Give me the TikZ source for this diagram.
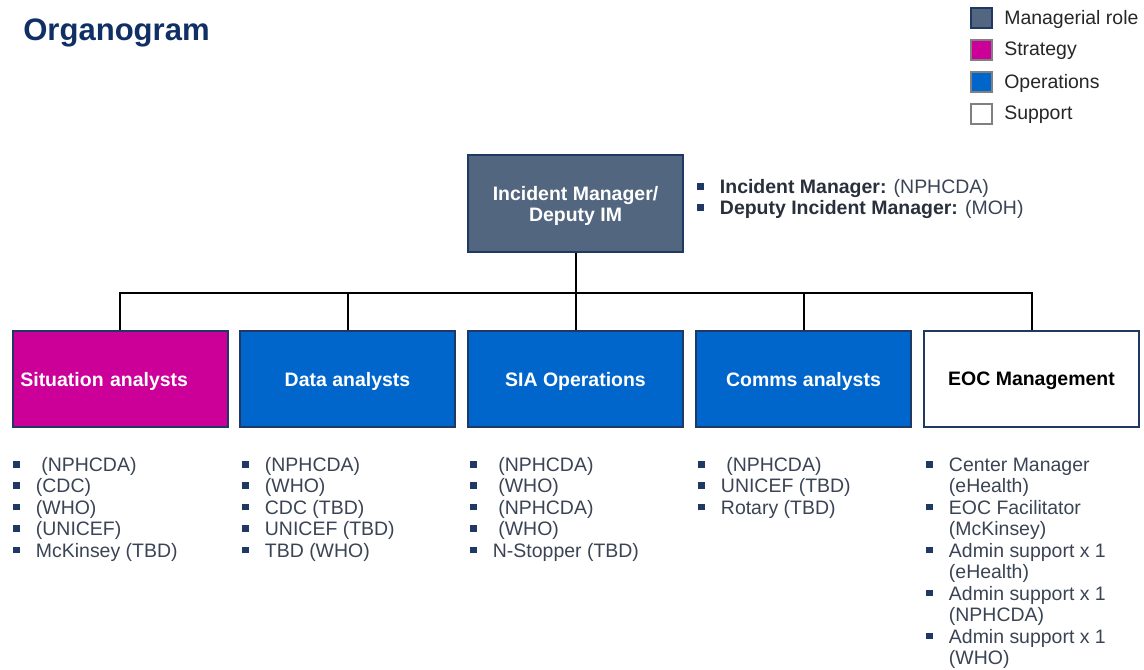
\documentclass[tikz,border=0pt]{standalone}
\usepackage{fontspec}
\setmainfont{Liberation Sans}

\definecolor{navyline}{RGB}{31,56,100}
\definecolor{mgrfill}{RGB}{82,102,128}
\definecolor{stratfill}{RGB}{204,0,153}
\definecolor{opsfill}{RGB}{0,102,204}
\definecolor{leggrey}{RGB}{128,128,128}
\definecolor{titlenavy}{RGB}{16,47,100}
\definecolor{listgrey}{RGB}{58,68,84}
\definecolor{bulnavy}{RGB}{31,56,100}

\newcommand{\bul}{\textcolor{bulnavy}{\rule[2.8pt]{5pt}{5pt}}}

\tikzset{
  unitbox/.style={draw=navyline, line width=1.3pt, minimum width=161.25pt,
    minimum height=72pt, inner sep=0pt, text=white, text depth=0pt,
    font=\bfseries\fontsize{14.6}{15.8}\selectfont, align=center},
  conn/.style={line width=1.5pt, black},
  staff/.style={anchor=north west, inner sep=0pt, text=listgrey,
    font=\fontsize{14.6}{16.1}\selectfont},
  legbox/.style={minimum width=16pt, minimum height=14.5pt, inner sep=0pt, line width=1.5pt},
  legtext/.style={anchor=west, inner sep=0pt, text=black!85,
    font=\fontsize{14.6}{16}\selectfont}
}

\begin{document}
\begin{tikzpicture}[x=0.75pt, y=-0.75pt]
\useasboundingbox (0,0) rectangle (1144,670);

%%%%%TITLE AND LEGEND%%%%%%%%%
\node[anchor=west, inner sep=0pt, text=titlenavy, font=\bfseries\fontsize{23.3}{25}\selectfont] (title) at (23,33) {Organogram};

\node[legbox, draw=navyline, fill=mgrfill] (legmgr) at (981.5,18) {};
\node[legtext] (legmgrtxt) at (1004,19) {Managerial role};
\node[legbox, draw=leggrey, fill=stratfill] (legstrat) at (981.5,50) {};
\node[legtext] (legstrattxt) at (1004,51) {Strategy};
\node[legbox, draw=leggrey, fill=opsfill] (legops) at (981.5,82) {};
\node[legtext] (legopstxt) at (1004,83) {Operations};
\node[legbox, draw=leggrey, fill=white] (legsup) at (981.5,114) {};
\node[legtext] (legsuptxt) at (1004,115) {Support};

%%%%%DRAW BOXES%%%%%%%%%
\node[unitbox, fill=mgrfill, minimum height=72.75pt] (im) at (575.5,203.5) {Incident Manager/\\Deputy IM};

\node[unitbox, fill=stratfill, align=left, anchor=west, text width=150pt, inner xsep=5.6pt] (sit) at (12,379) {Situation analysts};
\node[unitbox, fill=opsfill] (dat) at (347.5,379) {Data analysts};
\node[unitbox, fill=opsfill] (sia) at (575.5,379) {SIA Operations};
\node[unitbox, fill=opsfill] (com) at (803.5,379) {Comms analysts};
\node[unitbox, fill=white, text=black] (eoc) at (1031.5,379) {EOC Management};

%%%%%DRAW CONNECTORS%%%%%%%
\foreach \n in {sit,dat,sia,com,eoc}
  \draw[conn] (im.south) -- ++(0,40) -| (\n.north);

%%%%%DRAW STAFF LISTS%%%%%%%
\node[staff] (imlist) at (697,178) {\begin{tabular}{@{}l@{\hspace{12pt}}l@{}}
\bul & \textcolor{listgrey!70!black}{\textbf{Incident Manager:}} (NPHCDA)\\
\bul & \textcolor{listgrey!70!black}{\textbf{Deputy Incident Manager:}} (MOH)
\end{tabular}};

\node[staff] (sitlist) at (13,456) {\begin{tabular}{@{}l@{\hspace{12pt}}l@{}}
\bul & \ (NPHCDA)\\
\bul & (CDC)\\
\bul & (WHO)\\
\bul & (UNICEF)\\
\bul & McKinsey (TBD)
\end{tabular}};

\node[staff] (datlist) at (242,456) {\begin{tabular}{@{}l@{\hspace{12pt}}l@{}}
\bul & (NPHCDA)\\
\bul & (WHO)\\
\bul & CDC (TBD)\\
\bul & UNICEF (TBD)\\
\bul & TBD (WHO)
\end{tabular}};

\node[staff] (sialist) at (470,456) {\begin{tabular}{@{}l@{\hspace{12pt}}l@{}}
\bul & \ (NPHCDA)\\
\bul & \ (WHO)\\
\bul & \ (NPHCDA)\\
\bul & \ (WHO)\\
\bul & N-Stopper (TBD)
\end{tabular}};

\node[staff] (comlist) at (698,456) {\begin{tabular}{@{}l@{\hspace{12pt}}l@{}}
\bul & \ (NPHCDA)\\
\bul & UNICEF (TBD)\\
\bul & Rotary (TBD)
\end{tabular}};

\node[staff] (eoclist) at (926,456) {\begin{tabular}{@{}l@{\hspace{12pt}}l@{}}
\bul & Center Manager\\
     & (eHealth)\\
\bul & EOC Facilitator\\
     & (McKinsey)\\
\bul & Admin support x 1\\
     & (eHealth)\\
\bul & Admin support x 1\\
     & (NPHCDA)\\
\bul & Admin support x 1\\
     & (WHO)
\end{tabular}};

\end{tikzpicture}
\end{document}
